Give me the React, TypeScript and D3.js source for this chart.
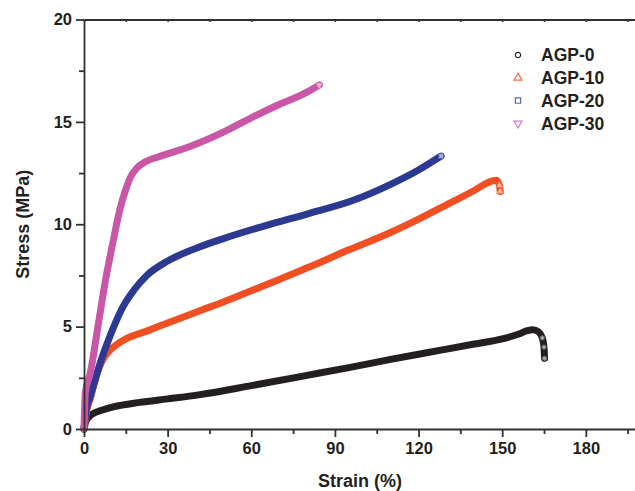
import { useRef, useEffect } from 'react';
import * as d3 from 'd3';

// strain (%), stress (MPa)
const agp0: [number, number][] = [
  [0, 0], [0.5, 0.3], [1.5, 0.55], [3.3, 0.75], [6, 0.9], [10.5, 1.08], [20, 1.3], [30, 1.47],
  [41.6, 1.68], [60, 2.12], [80, 2.62], [95, 3.0], [110, 3.4], [128, 3.85], [140, 4.15],
  [150, 4.4], [156, 4.64], [159, 4.8], [161, 4.85], [163, 4.75], [164.4, 4.45], [165, 4.0], [165.2, 3.45],
];
const agp10: [number, number][] = [
  [0, 0], [1, 0.9], [2.5, 1.6], [4, 2.4], [5.5, 3.0], [7, 3.45], [9, 3.8], [11.5, 4.1],
  [15, 4.4], [22.5, 4.78], [30, 5.18], [41.6, 5.78], [50, 6.2], [60, 6.75], [70, 7.3], [81, 7.92],
  [95, 8.75], [110, 9.6], [120, 10.25], [130, 10.95], [140, 11.65], [146, 12.1],
  [148, 12.15], [149, 11.9], [149.3, 11.6],
];
const agp20: [number, number][] = [
  [0, 0], [0.7, 0.9], [2, 1.5], [4, 2.4], [6, 3.3], [8.1, 4.1], [11, 5.1], [14.1, 6.0],
  [18, 6.8], [22.5, 7.5], [30, 8.2], [41.6, 8.9], [50, 9.3], [65.5, 9.95], [80, 10.5],
  [96.6, 11.17], [110, 11.95], [120, 12.65], [128.1, 13.33],
];
const agp30: [number, number][] = [
  [0, 0], [0.5, 1.8], [2.2, 2.7], [5, 5.0], [7.5, 7.1], [10.5, 9.2], [13, 10.8], [15, 11.7],
  [16.5, 12.25], [19, 12.75], [22, 13.05], [28, 13.35], [38, 13.8], [50, 14.5], [60, 15.2],
  [70, 15.85], [80, 16.45], [84.4, 16.8],
];

const seriesNames = ['AGP-0', 'AGP-10', 'AGP-20', 'AGP-30'];
const seriesColors = ['#231f20', '#f04e23', '#2b3990', '#c957a5'];
const markerColors = ['#6d6e71', '#f26b4c', '#5a67b0', '#d47dba'];
const markerShapes = [d3.symbolCircle, d3.symbolTriangle, d3.symbolSquare, d3.symbolTriangle];
const xTicks = [0, 30, 60, 90, 120, 150, 180];
const yTicks = [0, 5, 10, 15, 20];

export default function App() {
  const svgRef = useRef<SVGSVGElement>(null);

  useEffect(() => {
    const svgWidth = 635;
    const svgHeight = 491;
    const svg = d3.select(svgRef.current).attr('width', svgWidth).attr('height', svgHeight);
    svg.selectAll('*').remove();

    const left = 84;
    const right = 636;
    const top = 19.5;
    const bottom = 429;

    const xScale = d3.scaleLinear().domain([0, 198]).range([left, right]);
    const yScale = d3.scaleLinear().domain([0, 20]).range([bottom, top]);
    const font = 'Liberation Sans, Arial, sans-serif';
    const axisColor = '#303030';

    const allSeries = [agp0, agp10, agp20, agp30];
    const line = d3
      .line<[number, number]>()
      .x((d) => xScale(d[0]))
      .y((d) => yScale(d[1]))
      .curve(d3.curveMonotoneX);

    const curves = svg.append('g').attr('class', 'curves');
    allSeries.forEach((s, i) => {
      curves
        .append('path')
        .attr('d', line(s))
        .attr('fill', 'none')
        .attr('stroke', seriesColors[i])
        .attr('stroke-width', 7)
        .attr('stroke-linecap', 'round')
        .attr('stroke-linejoin', 'round');
    });

    // open markers at the break points
    const ends = svg.append('g').attr('class', 'ends');
    allSeries.forEach((s, i) => {
      const tail = i === 0 ? s.slice(-3) : i === 1 ? s.slice(-2) : s.slice(-1);
      tail.forEach((d) => {
        ends
          .append('path')
          .attr('d', d3.symbol().type(markerShapes[i]).size(i === 0 ? 14 : 22)())
          .attr(
            'transform',
            `translate(${xScale(d[0])}, ${yScale(d[1])}) rotate(${i === 3 ? 180 : 0})`
          )
          .attr('fill', '#ffffff')
          .attr('fill-opacity', 0.6)
          .attr('stroke', markerColors[i])
          .attr('stroke-width', 1);
      });
    });

    // axes
    const xAxis = d3
      .axisBottom(xScale)
      .tickValues(d3.range(0, 198, 15))
      .tickFormat((d) => (xTicks.includes(+d) ? String(d) : ''))
      .tickSizeOuter(0);
    const xg = svg.append('g').attr('transform', `translate(0, ${bottom})`).call(xAxis);
    xg.selectAll('.tick line')
      .attr('y2', (d) => (xTicks.includes(+d) ? 8 : 5))
      .attr('stroke-width', 1.8);
    xg.select('.domain').attr('stroke-width', 1.8);

    const yAxis = d3
      .axisLeft(yScale)
      .tickValues(d3.range(0, 20.1, 2.5))
      .tickFormat((d) => (yTicks.includes(+d) ? String(d) : ''))
      .tickSizeOuter(0);
    const yg = svg.append('g').attr('transform', `translate(${left}, 0)`).call(yAxis);
    yg.selectAll('.tick line')
      .attr('x2', (d) => (yTicks.includes(+d) ? -8 : -5))
      .attr('stroke-width', 1.8);
    yg.select('.domain').attr('stroke-width', 1.8);

    const topAxis = d3
      .axisTop(xScale)
      .tickValues(d3.range(0, 198, 15))
      .tickFormat(() => '')
      .tickSizeInner(-2.5)
      .tickSizeOuter(0);
    const tg = svg.append('g').attr('transform', `translate(0, ${top})`).call(topAxis);
    tg.selectAll('.tick line').attr('stroke-width', 1.5);
    tg.select('.domain').attr('stroke-width', 1.8);

    svg
      .selectAll('.domain, .tick line')
      .attr('stroke', axisColor);

    xg.selectAll('.tick text')
      .attr('y', 13)
      .attr('dy', '0.71em')
      .attr('font-size', 16.5);
    yg.selectAll('.tick text')
      .attr('x', -12)
      .attr('font-size', 16.5);
    svg
      .selectAll('.tick text')
      .attr('font-family', font)
      .attr('font-weight', 'bold')
      .attr('fill', '#231f20');

    svg
      .append('text')
      .attr('x', (left + right) / 2)
      .attr('y', 487)
      .attr('text-anchor', 'middle')
      .attr('font-family', font)
      .attr('font-weight', 'bold')
      .attr('font-size', 18)
      .attr('fill', '#231f20')
      .text('Strain (%)');

    svg
      .append('text')
      .attr('transform', `translate(29, ${(top + bottom) / 2}) rotate(-90)`)
      .attr('text-anchor', 'middle')
      .attr('font-family', font)
      .attr('font-weight', 'bold')
      .attr('font-size', 18)
      .attr('fill', '#231f20')
      .text('Stress (MPa)');

    // legend
    const legend = svg.append('g').attr('class', 'legend');
    seriesNames.forEach((name, i) => {
      const y = 55 + i * 22.8;
      legend
        .append('path')
        .attr('d', d3.symbol().type(markerShapes[i]).size(i === 0 ? 22 : 28)())
        .attr('transform', `translate(518, ${y}) rotate(${i === 3 ? 180 : 0})`)
        .attr('fill', '#ffffff')
        .attr('stroke', i === 0 ? '#231f20' : markerColors[i])
        .attr('stroke-width', 1.2);
      legend
        .append('text')
        .attr('x', 541)
        .attr('y', y)
        .attr('dy', '0.36em')
        .attr('font-family', font)
        .attr('font-weight', 'bold')
        .attr('font-size', 17.5)
        .attr('fill', '#231f20')
        .text(name);
    });
  }, []);

  return (
    <div>
      <svg ref={svgRef} style={{ position: 'absolute', left: 0, top: 0 }} />
    </div>
  );
}
